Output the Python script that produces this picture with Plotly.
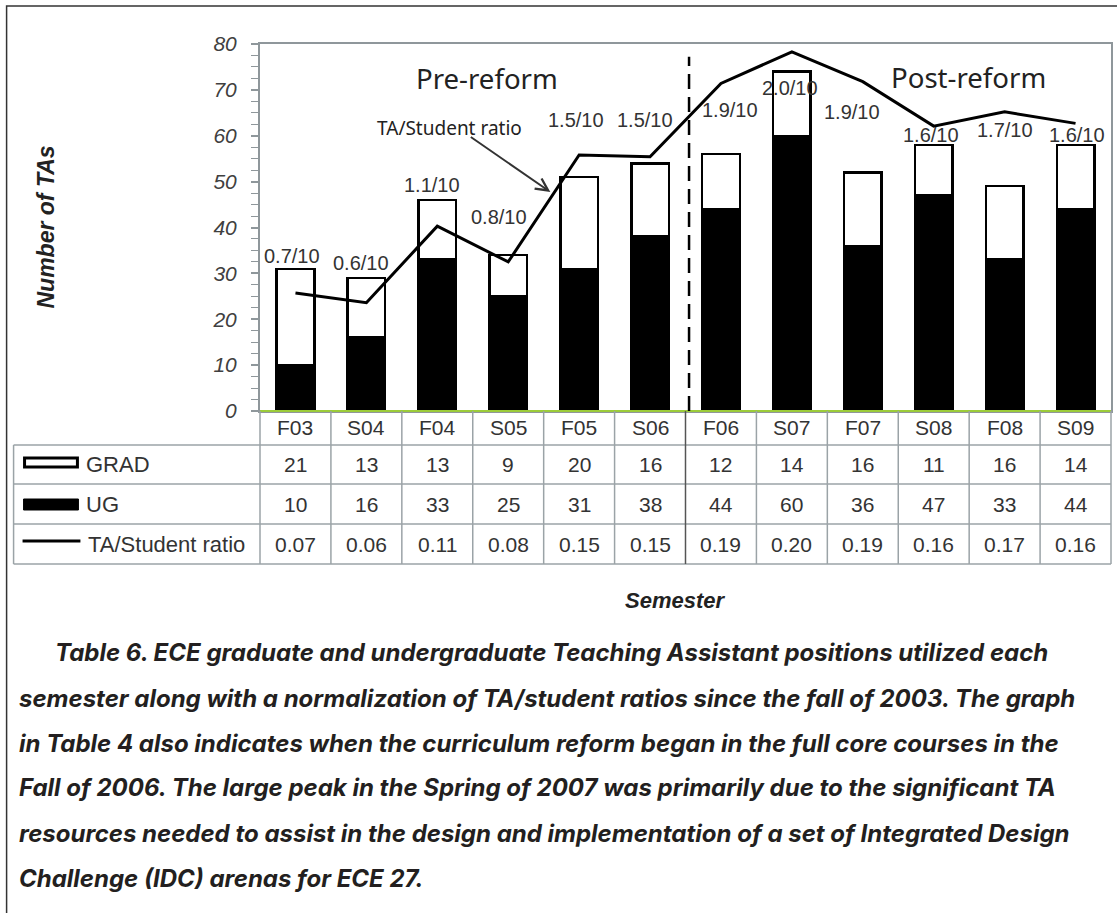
import plotly.graph_objects as go

# ---------------- data ----------------
semesters = ["F03", "S04", "F04", "S05", "F05", "S06", "F06", "S07", "F07", "S08", "F08", "S09"]
grad = [21, 13, 13, 9, 20, 16, 12, 14, 16, 11, 16, 14]
ug = [10, 16, 33, 25, 31, 38, 44, 60, 36, 47, 33, 44]
ratio = [0.07, 0.06, 0.11, 0.08, 0.15, 0.15, 0.19, 0.20, 0.19, 0.16, 0.17, 0.16]
# TA/Student ratio curve as drawn against the "Number of TAs" axis
ratio_curve = [25.7, 23.6, 40.3, 32.5, 55.8, 55.4, 71.4, 78.3, 71.8, 62.1, 65.2, 62.7]
y_ticks = [0, 10, 20, 30, 40, 50, 60, 70, 80]
series_names = ["GRAD", "UG", "TA/Student ratio"]
caption_lines = [
    "Table 6. ECE graduate and undergraduate Teaching Assistant positions utilized each",
    "semester along with a normalization of TA/student ratios since the fall of 2003. The graph",
    "in Table 4 also indicates when the curriculum reform began in the full core courses in the",
    "Fall of 2006. The large peak in the Spring of 2007 was primarily due to the significant TA",
    "resources needed to assist in the design and implementation of a set of Integrated Design",
    "Challenge (IDC) arenas for ECE 27.",
]

# ---------------- layout constants ----------------
W, H = 1117, 913
PL, PR, PT, PB = 260, 1113, 44, 411
N = len(semesters)
idx = list(range(N))
COLW = (PR - PL) / N


def xp(px):
    return (px - PL) / (PR - PL)


def yp(py):
    return (PB - py) / (PB - PT)


ARIAL = "Liberation Sans, Arial, sans-serif"
CALI = "Noto Sans, Open Sans, sans-serif"
GRID = "#9ba3a7"
AXC = "#8f979b"
TXT = "#333333"

fig = go.Figure()
fig.add_trace(go.Bar(x=idx, y=ug, name="UG", width=0.53,
                     marker=dict(color="black", line=dict(color="black", width=2.5))))
fig.add_trace(go.Bar(x=idx, y=grad, name="GRAD", width=0.53,
                     marker=dict(color="white", line=dict(color="black", width=2.5))))
fig.add_trace(go.Scatter(x=idx, y=ratio_curve, mode="lines", name="TA/Student ratio",
                         line=dict(color="black", width=3)))

shapes = []
annotations = []


def txt(x, y, text, font, xref="paper", yref="paper", xanchor="center", **kw):
    d = dict(x=x, y=y, xref=xref, yref=yref, text=text, showarrow=False,
             xanchor=xanchor, yanchor="middle", font=font)
    d.update(kw)
    annotations.append(d)


# zero line (yellow-green)
shapes.append(dict(type="line", xref="paper", yref="paper", x0=0, x1=1, y0=0, y1=0,
                   line=dict(color="#9ccc3a", width=2), layer="above"))
# reform divider
shapes.append(dict(type="line", xref="x", yref="y", x0=5.55, x1=5.55, y0=0, y1=77.2,
                   line=dict(color="black", width=2.5, dash="15px,8px")))

# ---------------- table ----------------
rows_y = [411, 445, 484, 524, 564]
TL = 13
for ry in rows_y[1:]:
    shapes.append(dict(type="line", xref="paper", yref="paper", x0=xp(TL), x1=xp(PR),
                       y0=yp(ry), y1=yp(ry), line=dict(color=GRID, width=1.5)))
shapes.append(dict(type="line", xref="paper", yref="paper", x0=xp(TL), x1=xp(TL),
                   y0=yp(rows_y[1]), y1=yp(rows_y[-1]), line=dict(color=GRID, width=1.5)))
for k in range(N + 1):
    xx = PL + k * COLW
    col = "#555555" if k == 6 else GRID
    shapes.append(dict(type="line", xref="paper", yref="paper", x0=xp(xx), x1=xp(xx),
                       y0=yp(rows_y[0]), y1=yp(rows_y[-1]), line=dict(color=col, width=1.5)))

row_centers = [(rows_y[i] + rows_y[i + 1]) / 2 for i in range(4)]
for i in idx:
    cells = [semesters[i], str(grad[i]), str(ug[i]), f"{ratio[i]:.2f}"]
    for r, t in enumerate(cells):
        txt(i, yp(row_centers[r]), t, dict(family=ARIAL, size=21, color=TXT), xref="x")

# legend column
shapes.append(dict(type="rect", xref="paper", yref="paper", x0=xp(24), x1=xp(77),
                   y0=yp(458), y1=yp(467), fillcolor="white",
                   line=dict(color="black", width=3)))
shapes.append(dict(type="rect", xref="paper", yref="paper", x0=xp(23), x1=xp(78),
                   y0=yp(499), y1=yp(510), fillcolor="black",
                   line=dict(color="black", width=1)))
shapes.append(dict(type="line", xref="paper", yref="paper", x0=xp(22), x1=xp(80),
                   y0=yp(541), y1=yp(541), line=dict(color="black", width=3)))
for r, name in enumerate(series_names):
    txt(xp(84 if r < 2 else 86), yp(row_centers[r + 1]), name,
        dict(family=ARIAL, size=22, color=TXT), xanchor="left")

# ---------------- ratio labels ----------------
lab_shift = [(-3, 37), (-5, 40), (-5, 41), (-9, 45), (-3, 35), (-5, 37),
             (9, -27), (-2, -36), (-11, -30), (-3, -9), (0, -18), (1, -12)]
for i in idx:
    txt(i, ratio_curve[i], f"{ratio[i] * 10:.1f}/10", dict(family=ARIAL, size=20, color=TXT),
        xref="x", yref="y", xshift=lab_shift[i][0], yshift=lab_shift[i][1])

# region labels
txt(xp(488), yp(78), "Pre-reform", dict(family=CALI, size=27.6, color="#222222"))
txt(xp(970), yp(77), "Post-reform", dict(family=CALI, size=27.6, color="#222222"))
# arrow label
txt(xp(450), yp(128), "TA/Student ratio", dict(family=CALI, size=19, color="#222222"))
annotations.append(dict(x=xp(551), y=yp(192), xref="paper", yref="paper", text="",
                        showarrow=True, ax=470 - 551, ay=136 - 192, axref="pixel", ayref="pixel",
                        arrowhead=5, arrowsize=1.2, arrowwidth=2, arrowcolor="#333333"))

# axis titles
txt(xp(45), yp(227), "Number of TAs",
    dict(family=ARIAL, size=23, color="#222222", weight="bold", style="italic"), textangle=-90)
txt(xp(676), yp(600), "Semester",
    dict(family=ARIAL, size=22, color="#222222", weight="bold", style="italic"))

# caption
cap_y = [652, 698, 743, 788, 833, 878]
for k, line in enumerate(caption_lines):
    txt(xp(53 if k == 0 else 16), yp(cap_y[k]), line,
        dict(family="Inter, Open Sans, sans-serif", size=24, color="#231f20",
             weight="bold", style="italic"), xanchor="left")

# outer frame
shapes.append(dict(type="rect", xref="paper", yref="paper", x0=xp(6), x1=xp(1125),
                   y0=yp(925), y1=yp(6), line=dict(color="#333333", width=1.5)))

fig.update_layout(
    width=W, height=H,
    margin=dict(l=PL, r=W - PR, t=PT, b=H - PB, pad=0),
    paper_bgcolor="white", plot_bgcolor="white",
    barmode="stack", showlegend=False,
    shapes=shapes, annotations=annotations,
    xaxis=dict(range=[-0.5, N - 0.5], showticklabels=False, ticks="", showgrid=False,
               zeroline=False, showline=True, linecolor=AXC, linewidth=2, mirror=True),
    yaxis=dict(range=[0, 80], tickmode="array", tickvals=y_ticks, ticks="outside", ticklen=7,
               tickwidth=1.5, tickcolor=AXC, showgrid=False, zeroline=False, showline=True,
               linecolor=AXC, linewidth=2, mirror=True, ticklabelstandoff=10,
               minor=dict(dtick=2.5, tick0=0, ticks="outside", ticklen=7, tickcolor=AXC,
                          tickwidth=1),
               tickfont=dict(family=ARIAL, size=21, color="#404040", style="italic")),
)

fig.write_html("out.html", config={"displayModeBar": False},
               post_script="document.body.style.margin='0';")
